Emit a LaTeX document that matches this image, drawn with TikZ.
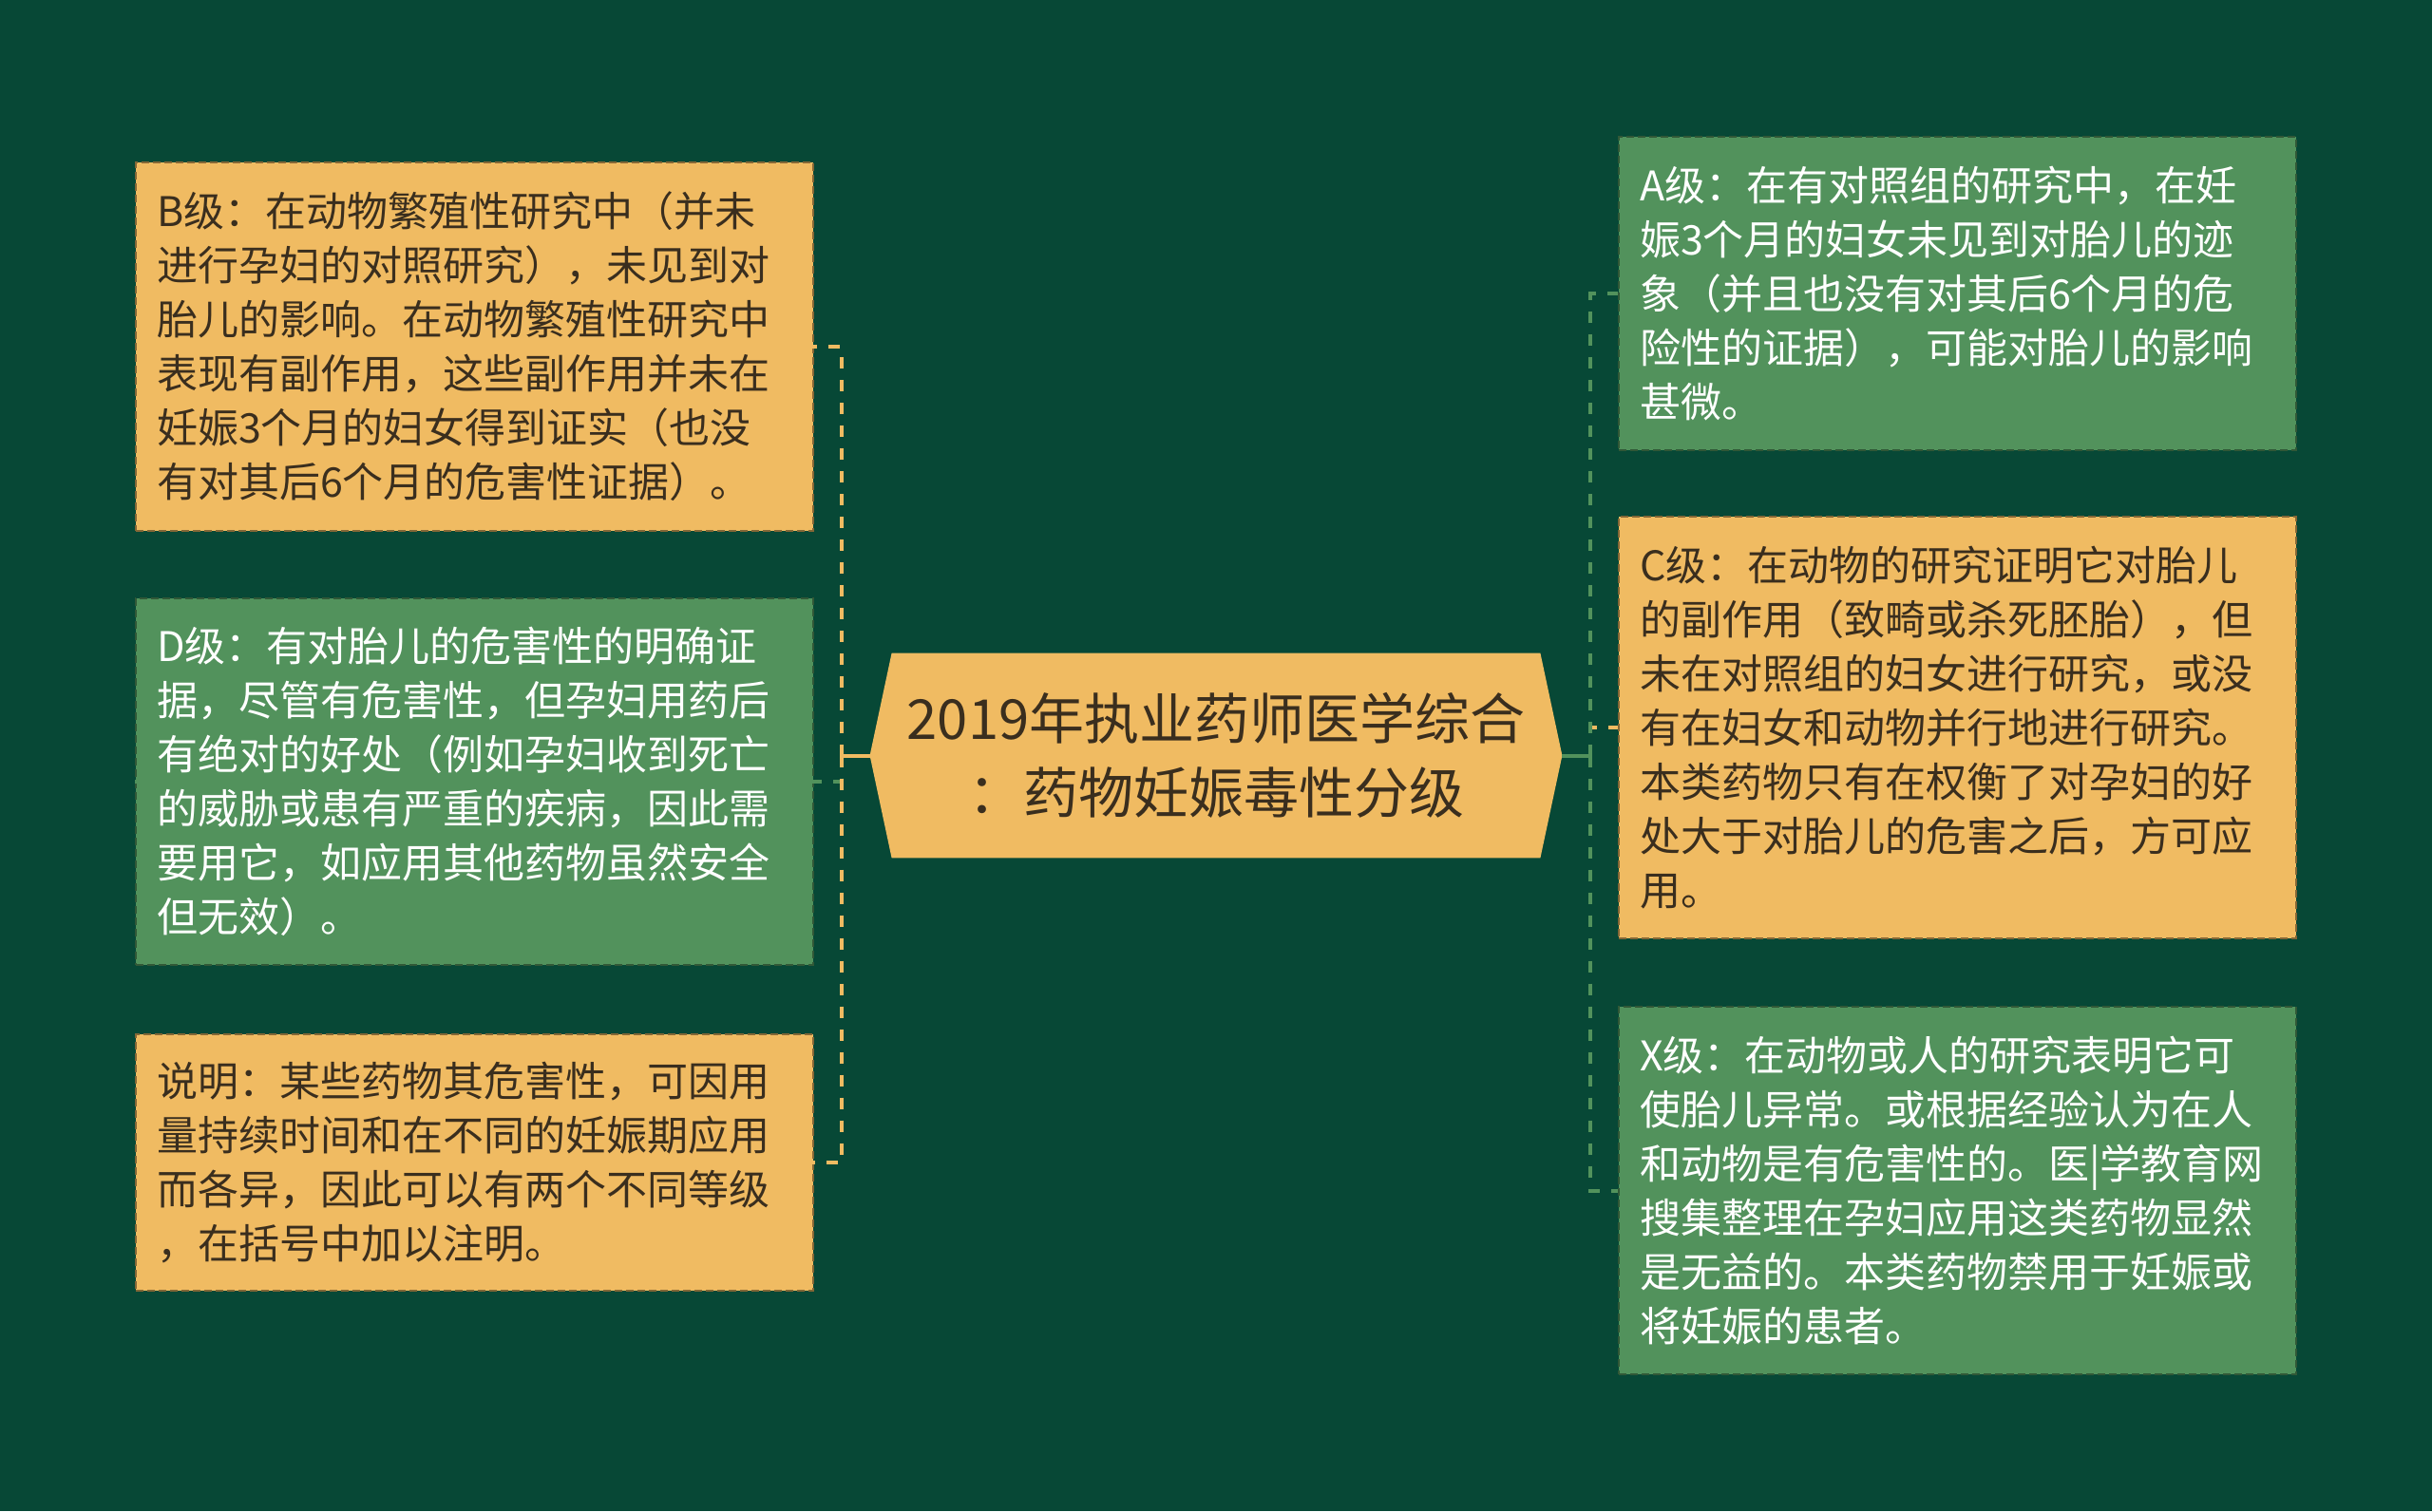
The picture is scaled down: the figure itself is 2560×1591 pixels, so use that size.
\documentclass[tikz,border=0pt]{standalone}
\usepackage{fontspec}
\setmainfont{Noto Sans CJK SC}
\usetikzlibrary{calc,backgrounds}
\definecolor{bgC}{HTML}{074836}
\definecolor{orangeC}{HTML}{F0BB62}
\definecolor{greenC}{HTML}{52925C}
\definecolor{darkT}{HTML}{3A2E1E}
\tikzset{
  box/.style={line width=1pt, dash pattern=on 4pt off 2pt, text width=334.5pt,
    inner xsep=11pt, inner ysep=0pt, align=left,
    font=\fontsize{21.5pt}{28.5pt}\selectfont},
  obox/.style={box, fill=orangeC, draw=orangeC!55!black, text=darkT},
  gbox/.style={box, fill=greenC, draw=greenC!60!black, text=white},
  connS/.style={line width=2pt},
  connD/.style={line width=2pt, dash pattern=on 6pt off 6pt},
}
\begin{document}
\begin{tikzpicture}[x=0.5pt,y=-0.5pt]
\useasboundingbox (0,0) rectangle (2560,1591);

\node[obox, minimum height=194pt] (B) at (499.5,365) {B级：在动物繁殖性研究中（并未\\进行孕妇的对照研究），未见到对\\胎儿的影响。在动物繁殖性研究中\\表现有副作用，这些副作用并未在\\妊娠3个月的妇女得到证实（也没\\有对其后6个月的危害性证据）。};
\node[gbox, minimum height=193pt] (D) at (499.5,823) {D级：有对胎儿的危害性的明确证\\据，尽管有危害性，但孕妇用药后\\有绝对的好处（例如孕妇收到死亡\\的威胁或患有严重的疾病，因此需\\要用它，如应用其他药物虽然安全\\但无效）。};
\node[obox, minimum height=135pt] (N) at (499.5,1224) {说明：某些药物其危害性，可因用\\量持续时间和在不同的妊娠期应用\\而各异，因此可以有两个不同等级\\，在括号中加以注明。};
\node[gbox, minimum height=165pt] (A) at (2060.5,309) {A级：在有对照组的研究中，在妊\\娠3个月的妇女未见到对胎儿的迹\\象（并且也没有对其后6个月的危\\险性的证据），可能对胎儿的影响\\甚微。};
\node[obox, minimum height=222pt] (C) at (2060.5,766) {C级：在动物的研究证明它对胎儿\\的副作用（致畸或杀死胚胎），但\\未在对照组的妇女进行研究，或没\\有在妇女和动物并行地进行研究。\\本类药物只有在权衡了对孕妇的好\\处大于对胎儿的危害之后，方可应\\用。};
\node[gbox, minimum height=193.5pt] (X) at (2060.5,1253.5) {X级：在动物或人的研究表明它可\\使胎儿异常。或根据经验认为在人\\和动物是有危害性的。医|学教育网\\搜集整理在孕妇应用这类药物显然\\是无益的。本类药物禁用于妊娠或\\将妊娠的患者。};

\node[minimum width=341pt, minimum height=107.5pt, inner sep=0pt, align=center,
  text=darkT, font=\fontsize{29pt}{39pt}\selectfont] (c) at (1280,795.5)
  {2019年执业药师医学综合\\：药物妊娠毒性分级};

\coordinate (cl) at ($(c.west)+(-23,0)$);
\coordinate (cr) at ($(c.east)+(23,0)$);
\coordinate (jl) at ($(cl)+(-30,0)$);
\coordinate (jr) at ($(cr)+(30,0)$);

\begin{scope}[on background layer]
  \fill[bgC] (0,0) rectangle (2560,1591);
  \fill[orangeC] (c.north west) -- (c.north east) -- (cr) -- (c.south east) -- (c.south west) -- (cl) -- cycle;
\end{scope}

\draw[connS, orangeC] (cl) -- (jl);
\draw[connD, greenC] (jl) |- (D.west);
\draw[connD, orangeC] (jl) |- (B.west);
\draw[connD, orangeC] (jl) |- (N.west);

\draw[connS, greenC] (cr) -- (jr);
\draw[connD, orangeC] (jr) |- (C.west);
\draw[connD, greenC] (jr) |- (A.west);
\draw[connD, greenC] (jr) |- (X.west);
\end{tikzpicture}
\end{document}
